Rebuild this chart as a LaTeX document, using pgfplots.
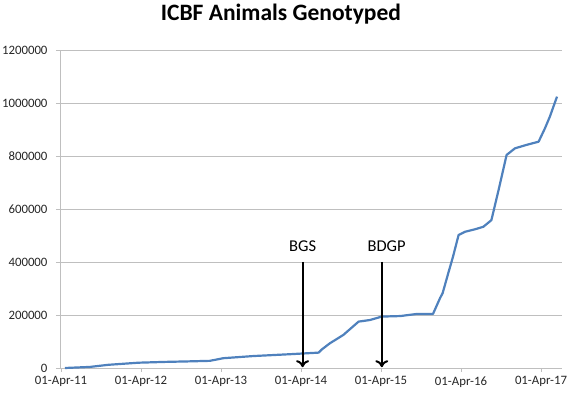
\documentclass[border=0pt]{standalone}
\usepackage{pgfplots}
\pgfplotsset{compat=1.18}
\usetikzlibrary{arrows.meta}
\usepackage{fontspec}
\setmainfont{Carlito}
\definecolor{exblue}{HTML}{4F81BD}
\definecolor{gridgray}{HTML}{BFBFBF}
\begin{document}
\begin{tikzpicture}[x=1pt,y=1pt]
\path[use as bounding box] (-60,-31) rectangle (514,368);
\begin{axis}[
  at={(0,0)}, anchor=south west,
  scale only axis, width=502pt, height=318pt,
  xmin=-0.0125, xmax=6.2625,
  ymin=0, ymax=1200000,
  xtick={0,1,2,3,4,5,6},
  xticklabels={01-Apr-11,01-Apr-12,01-Apr-13,01-Apr-14,01-Apr-15,01-Apr-16,01-Apr-17},
  ytick={0,200000,400000,600000,800000,1000000,1200000},
  scaled y ticks=false,
  /pgf/number format/fixed,
  /pgf/number format/1000 sep={},
  /pgf/number format/assume math mode=true,
  ymajorgrids, major grid style={gridgray, line width=0.8pt},
  axis x line*=bottom, axis y line*=left,
  axis line style={gridgray, line width=0.8pt},
  tick style={gridgray, line width=0.8pt},
  tick align=outside, major tick length=4pt,
  ticklabel style={font=\fontsize{12.8}{14}\selectfont, text=black!85},
  xticklabel style={yshift=-1pt},
  yticklabel style={xshift=-5pt},
  title={\textbf{ICBF Animals Genotyped}},
  title style={font=\fontsize{23.5}{27}\selectfont, at={(0.44,1)}, anchor=center, yshift=30pt},
  clip=false,
]
\addplot[exblue, line width=2.2pt, line join=round] coordinates {
(0.05,0) (0.36,4000) (0.59,12000) (0.97,20000) (1.30,23000) (1.60,25000) (1.86,27000)
(2.03,37000) (2.40,45000) (2.86,52000) (3.22,58000) (3.26,70000)
(3.36,93000) (3.53,125000) (3.72,175000) (3.86,181000) (4.01,194000)
(4.24,196000) (4.45,204000) (4.65,204000) (4.70,238000) (4.74,265000) (4.77,282000)
(4.84,357000) (4.90,420000) (4.97,502000) (5.05,514000) (5.17,523000) (5.28,533000)
(5.38,558000) (5.47,672000) (5.57,804000) (5.675,829000) (5.82,842000) (5.97,854000)
(6.05,905000) (6.11,948000) (6.20,1024000)
};
\draw[black, line width=2pt, -{To[length=7pt,width=13pt]}] (axis cs:3.02,400000) -- (axis cs:3.02,3000);
\draw[black, line width=2pt, -{To[length=7pt,width=13pt]}] (axis cs:4.01,400000) -- (axis cs:4.01,3000);
\node[font=\fontsize{16.5}{18}\selectfont] at (axis cs:3.02,458000) {BGS};
\node[font=\fontsize{16.5}{18}\selectfont] at (axis cs:4.07,458000) {BDGP};
\end{axis}
\end{tikzpicture}
\end{document}
